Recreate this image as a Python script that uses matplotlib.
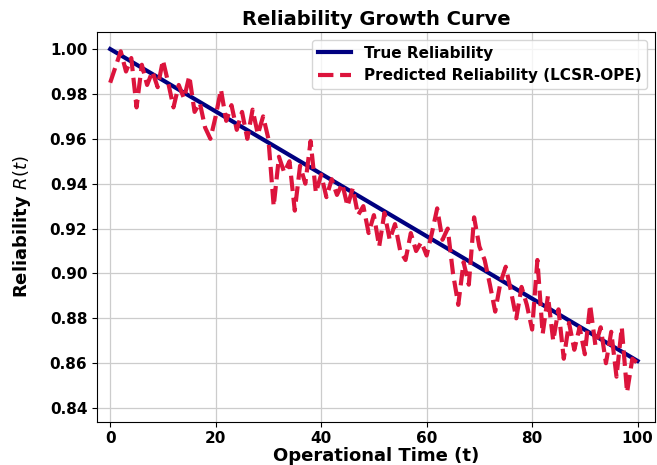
import matplotlib.pyplot as plt
import numpy as np

# Data
t_true = [0, 100]
r_true = [1.000, 0.861]

t_pred = list(range(0, 101))
r_pred = [
    0.985, 0.992, 0.999, 0.990, 0.996, 0.974, 0.993, 0.984, 0.990, 0.983,
    0.995, 0.985, 0.974, 0.984, 0.978, 0.988, 0.972, 0.976, 0.965, 0.960,
    0.970, 0.982, 0.968, 0.975, 0.964, 0.972, 0.960, 0.973, 0.962, 0.970,
    0.960, 0.930, 0.952, 0.945, 0.950, 0.928, 0.948, 0.940, 0.959, 0.936,
    0.944, 0.934, 0.942, 0.935, 0.940, 0.930, 0.938, 0.926, 0.930, 0.918,
    0.926, 0.912, 0.927, 0.915, 0.922, 0.910, 0.906, 0.918, 0.910, 0.914,
    0.908, 0.918, 0.929, 0.915, 0.920, 0.900, 0.886, 0.905, 0.895, 0.925,
    0.912, 0.906, 0.895, 0.883, 0.896, 0.903, 0.892, 0.880, 0.894, 0.886,
    0.875, 0.906, 0.873, 0.890, 0.870, 0.884, 0.862, 0.878, 0.866, 0.876,
    0.864, 0.886, 0.868, 0.876, 0.860, 0.874, 0.854, 0.876, 0.847, 0.862,
    0.860,
]

xticks = [0, 20, 40, 60, 80, 100]
yticks = [0.84, 0.86, 0.88, 0.90, 0.92, 0.94, 0.96, 0.98, 1.00]

fig = plt.figure(figsize=(6.57, 4.65), dpi=100)
ax = fig.add_axes([97 / 657, 43 / 465, 558 / 657, 390 / 465])

ax.plot(t_true, r_true, color="#000080", linewidth=3, label="True Reliability")
ax.plot(t_pred, r_pred, color="#DC143C", linewidth=3, linestyle="--",
        label="Predicted Reliability (LCSR-OPE)")

ax.set_xlim(-2.5, 103.3)
ax.set_ylim(0.8338, 1.0076)
ax.set_xticks(xticks)
ax.set_yticks(yticks)
ax.set_yticklabels([f"{v:.2f}" for v in yticks])
ax.tick_params(axis="x", pad=3)
for lab in ax.get_xticklabels() + ax.get_yticklabels():
    lab.set_fontweight("bold")
    lab.set_fontsize(11)

ax.grid(True, color="#cccccc", linewidth=0.9)
ax.set_axisbelow(True)

ax.set_title("Reliability Growth Curve", fontsize=14, fontweight="bold", pad=5)
ax.set_xlabel("Operational Time (t)", fontsize=13, fontweight="bold", labelpad=1)
ax.set_ylabel("Reliability $R(t)$", fontsize=13, fontweight="bold", labelpad=12)

ax.legend(loc="upper right", prop={"weight": "bold", "size": 11}, handlelength=2.2)

fig.savefig("out.png", dpi=100)
